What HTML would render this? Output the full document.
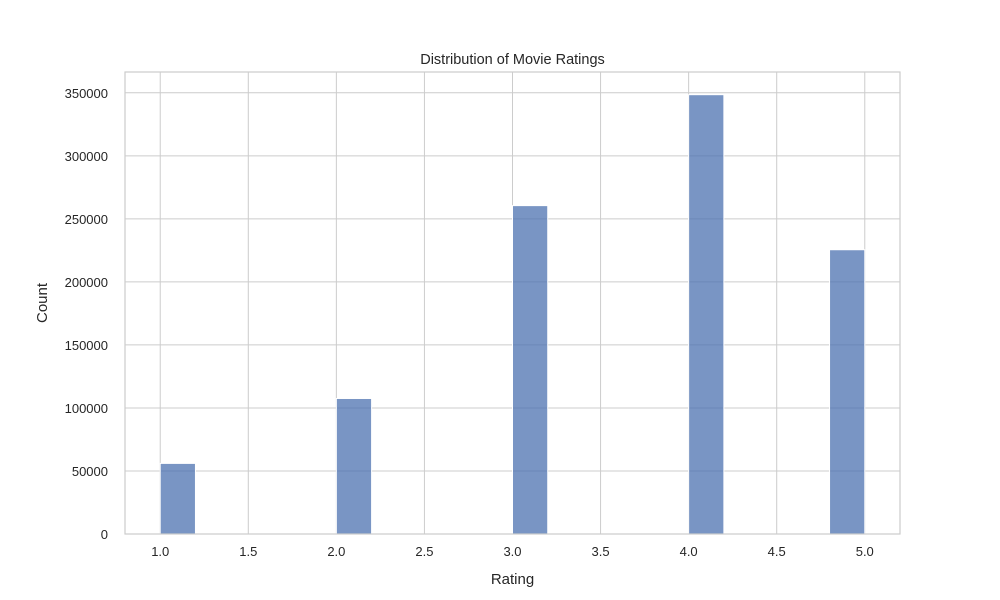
<!DOCTYPE html>
<html><head><meta charset="utf-8"><style>
body{margin:0;background:#fff;}
svg{display:block;font-family:"Liberation Sans",sans-serif;}
</style></head><body>
<svg id="chart" width="1000" height="600">
<rect x="0" y="0" width="1000" height="600" fill="#fff"/>
<g id="grid"></g>
<g id="bars"></g>
<rect x="125" y="72" width="775" height="462" fill="none" stroke="#cccccc" stroke-width="1.2"/>
<g id="ticks"></g>
<text x="512.5" y="64" text-anchor="middle" font-size="14.5" fill="#262626">Distribution of Movie Ratings</text>
<text x="512.5" y="584" text-anchor="middle" font-size="15" fill="#262626">Rating</text>
<text x="47" y="303" text-anchor="middle" font-size="15" fill="#262626" transform="rotate(-90 47 303)">Count</text>
</svg>
<script>
const binStarts = [1.0, 2.0, 3.0, 4.0, 4.8];
const counts = [56000, 107500, 260500, 348500, 225500];
const binWidth = 0.2;
const xTicks = [1.0, 1.5, 2.0, 2.5, 3.0, 3.5, 4.0, 4.5, 5.0];
const yTicks = [0, 50000, 100000, 150000, 200000, 250000, 300000, 350000];

const NS = "http://www.w3.org/2000/svg";
const L = 125, R = 900, T = 72, B = 534;
const xMin = 0.8, xMax = 5.2, yMax = 366500;
const xs = v => L + (v - xMin) / (xMax - xMin) * (R - L);
const ys = v => B - v / yMax * (B - T);
function mk(tag, attrs, parent) {
  const e = document.createElementNS(NS, tag);
  for (const k in attrs) e.setAttribute(k, attrs[k]);
  parent.appendChild(e);
  return e;
}
const grid = document.getElementById('grid');
const ticks = document.getElementById('ticks');
const bars = document.getElementById('bars');
xTicks.forEach(v => {
  const x = xs(v);
  const g = mk('line', {x1: x, x2: x, y1: T, y2: B, stroke: '#cccccc', 'stroke-width': 1}, grid);
  
  
  const t = mk('text', {x: x, y: B + 22, 'text-anchor': 'middle', 'font-size': 13, fill: '#262626'}, ticks);
  t.textContent = v.toFixed(1);
  
  
});
yTicks.forEach(v => {
  const y = ys(v);
  const g = mk('line', {x1: L, x2: R, y1: y, y2: y, stroke: '#cccccc', 'stroke-width': 1}, grid);
  
  
  const t = mk('text', {x: L - 17, y: y + 5, 'text-anchor': 'end', 'font-size': 13, fill: '#262626'}, ticks);
  t.textContent = String(v);
  
  
});
binStarts.forEach((s, i) => {
  const x0 = xs(s), x1 = xs(s + binWidth), y = ys(counts[i]);
  const r = mk('rect', {x: x0, y: y, width: x1 - x0, height: B - y, fill: '#4c72b0', 'fill-opacity': 0.75, stroke: '#ffffff', 'stroke-width': 1}, bars);
  
  
});
</script>
</body></html>
